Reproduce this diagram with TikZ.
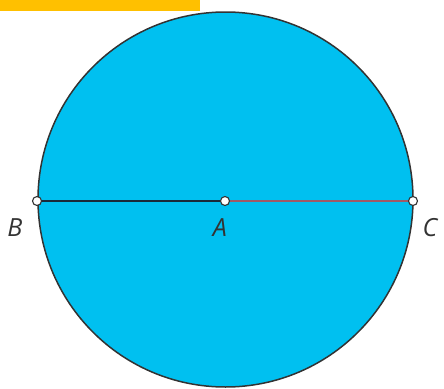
\documentclass[tikz,border=0pt]{standalone}
\usepackage{fontspec}
\setmainfont{Open Sans}
\definecolor{fillblue}{HTML}{00C0F0}
\definecolor{tabyellow}{HTML}{FFC000}
\definecolor{segred}{HTML}{A05A66}
\definecolor{segdark}{HTML}{1A2A3A}
\begin{document}
\begin{tikzpicture}[x=1pt,y=-1pt,
  pt/.style={circle,draw=black!80,fill=white,line width=1.1pt,inner sep=0pt,minimum size=9pt},
  lbl/.style={font=\itshape\fontsize{25}{25}\selectfont,text=black!80}]
\useasboundingbox (0,0) rectangle (444,388);
\fill[tabyellow] (0,0) rectangle (200,11);
\draw[fill=fillblue,draw=black!80,line width=1.5pt] (225.5,199.5) circle (187.5);
\coordinate (b) at (37,201);
\coordinate (a) at (225,201);
\coordinate (c) at (413,201);
\draw[segdark,line width=1.6pt] (b) -- (a);
\draw[segred,line width=1.6pt] (a) -- (c);
\node[pt] (B) at (b) {};
\node[pt] (A) at (a) {};
\node[pt] (C) at (c) {};
\node[lbl] (Bl) at (15,228) {B};
\node[lbl] (Al) at (220,228) {A};
\node[lbl] (Cl) at (430,228) {C};
\end{tikzpicture}
\end{document}
